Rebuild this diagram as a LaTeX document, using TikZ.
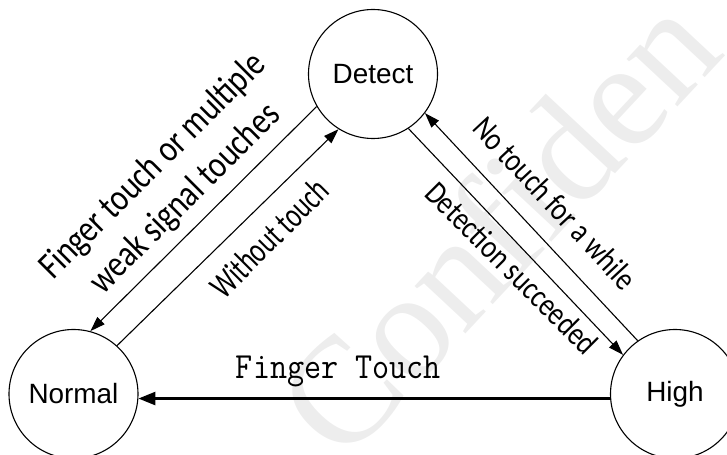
\documentclass[tikz,border=0pt]{standalone}
\usepackage{fontspec}
\setmainfont{Liberation Sans}
\newfontfamily\lblfont[FakeStretch=0.82]{Carlito}
\newfontfamily\wmfont{Liberation Serif}
\usetikzlibrary{arrows.meta}
\begin{document}
\begin{tikzpicture}[x=1bp,y=-1bp,
  state/.style={circle, draw, line width=1.1bp, minimum size=129bp, inner sep=0pt, font=\fontsize{28}{30}\selectfont},
  trans/.style={line width=1.1bp, -{Triangle[length=15bp,width=10bp]}},
  thicktrans/.style={line width=2.5bp, -{Triangle[length=17bp,width=13bp]}},
  lbl/.style={font=\lblfont\fontsize{33}{44}\selectfont, inner sep=0pt, align=center},
  biglbl/.style={font=\lblfont\fontsize{38}{46}\selectfont, inner sep=0pt, align=center},
  narrowlbl/.style={font=\lblfont\fontsize{36}{40}\selectfont, inner sep=0pt, align=center},
  wmark/.style={font=\wmfont\fontsize{152}{152}\selectfont, text=black!7, inner sep=0pt},
]
\useasboundingbox (0,0) rectangle (727,455);
\clip (0,0) rectangle (727,455);
\node[wmark, rotate=47, anchor=base west] (wm) at (343,466) {Confiden};
\node[state] (D) at (373,74) {Detect};
\node[state] (N) at (73.5,394) {Normal};
\node[state] (H) at (675,394) {High};
\draw[trans] (N.48) -- (D.238);
\draw[trans] (D.210) -- (N.75);
\draw[trans] (D.303) -- (H.143);
\draw[trans] (H.125) -- (D.323);
\draw[thicktrans] (H.184) -- (N.-4);
\node[biglbl, rotate=45] (l1) at (169.5,183) {Finger touch or multiple\\weak signal touches};
\node[narrowlbl, rotate=45] (l2) at (269,238) {\scalebox{0.87}[1]{Without touch}};
\node[lbl, rotate=-47] (l3) at (555,203) {No touch for a while};
\node[lbl, rotate=-45] (l4) at (512,268) {Detection succeeded};
\node[font=\ttfamily\fontsize{37}{40}\selectfont, anchor=base, inner sep=0pt] (l5) at (338.5,378) {\scalebox{0.9}[1]{Finger Touch}};
\end{tikzpicture}
\end{document}
